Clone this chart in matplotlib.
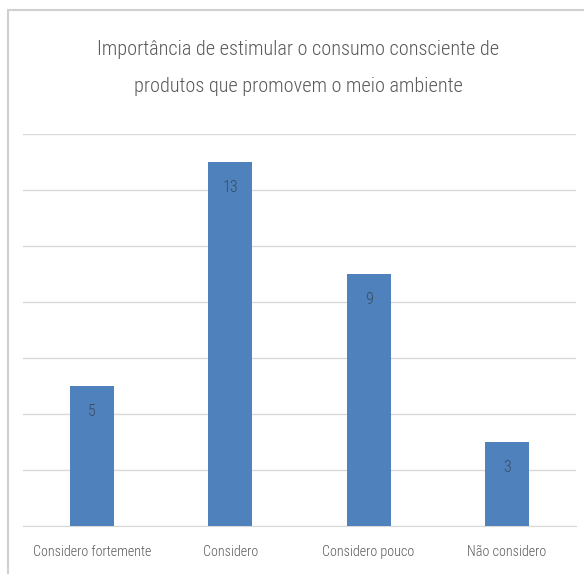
import matplotlib.pyplot as plt
from matplotlib.patches import Rectangle

categorias = ['Considero fortemente', 'Considero', 'Considero pouco', 'Não considero']
valores = [5, 13, 9, 3]
titulo = 'Importância de estimular o consumo consciente de\nprodutos que promovem o meio ambiente'

plt.rcParams['font.family'] = ['Roboto Condensed', 'Carlito', 'DejaVu Sans']
plt.rcParams['font.weight'] = 'light'

fig = plt.figure(figsize=(5.84, 5.74), dpi=100)
ax = fig.add_axes([23 / 584, 48 / 574, 553 / 584, 392 / 574])

cor_barra = '#4F81BD'
cor_texto = '#595959'

barras = ax.bar(range(len(categorias)), valores, width=0.32, color=cor_barra, zorder=3)
# rótulo de valor dentro da barra, um pouco abaixo do topo
for b, v in zip(barras, valores):
    ax.text(b.get_x() + b.get_width() / 2, v - 0.92, str(v), ha='center', va='center',
            fontsize=11.5, color='#3A4A5E', zorder=4)

ax.set_xlim(-0.5, len(categorias) - 0.5)
ax.set_ylim(0, 14)
ax.set_yticks(range(0, 15, 2))
ax.yaxis.grid(True, color='#D9D9D9', linewidth=1, zorder=0)
ax.tick_params(axis='y', left=False, labelleft=False)
ax.tick_params(axis='x', length=0, pad=14, labelsize=10.2, labelcolor=cor_texto)
ax.set_xticks(range(len(categorias)))
ax.set_xticklabels(categorias)
for s in ['top', 'right', 'left']:
    ax.spines[s].set_visible(False)
ax.spines['bottom'].set_color('#D9D9D9')

# moldura do gráfico
fig.patches.append(Rectangle((8 / 584, -0.1), 1.2, (574 - 10) / 574 + 0.1, transform=fig.transFigure,
                             fill=False, edgecolor='#D0D0D0', linewidth=1.5))

fig.text(298 / 584, 1 - 68 / 574, titulo, ha='center', va='center', fontsize=14.6,
         color=cor_texto, linespacing=2.15)

fig.savefig('out.png', dpi=100)
